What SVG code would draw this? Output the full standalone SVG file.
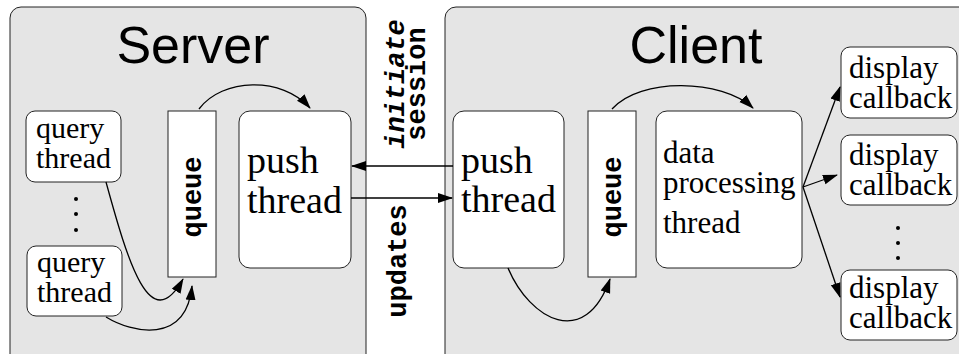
<svg xmlns="http://www.w3.org/2000/svg" width="959" height="354" viewBox="0 0 959 354">
  <style>
    .panel { fill: #e5e5e5; stroke: #222; stroke-width: 1; }
    .box { fill: #fff; stroke: #222; stroke-width: 1; }
    .title { font-family: "Liberation Sans", Arial, sans-serif; font-size: 52px; fill: #000; text-anchor: middle; }
    .lbl { font-family: "Liberation Serif", "Times New Roman", serif; fill: #000; }
    .mono { font-family: "Liberation Mono", "Courier New", monospace; font-weight: bold; font-size: 27px; fill: #000; text-anchor: middle; }
    .wire { fill: none; stroke: #000; stroke-width: 1.3; marker-end: url(#head); }
    .dot { fill: #000; }
  </style>
  <defs>
    <marker id="head" markerUnits="userSpaceOnUse" markerWidth="16" markerHeight="12" refX="14" refY="5" orient="auto" viewBox="0 0 16 10">
      <path d="M0,0 L15,5 L0,10 Z" fill="#000"/>
    </marker>
  </defs>

  <!-- server side -->
  <g id="server">
    <rect class="panel" x="10" y="7" width="356" height="370" rx="11"/>
    <text class="title" x="193" y="63">Server</text>
  </g>
  <g id="query-thread-1">
    <rect class="box" x="26" y="111" width="95" height="71" rx="9"/>
    <text class="lbl" font-size="30" x="36" y="138">query</text>
    <text class="lbl" font-size="30" x="36" y="168">thread</text>
  </g>
  <g id="query-dots">
    <circle class="dot" cx="76" cy="199" r="2"/>
    <circle class="dot" cx="76" cy="214" r="2"/>
    <circle class="dot" cx="76" cy="230" r="2"/>
  </g>
  <g id="query-thread-2">
    <rect class="box" x="27" y="246" width="95" height="70" rx="9"/>
    <text class="lbl" font-size="30" x="37" y="272">query</text>
    <text class="lbl" font-size="30" x="37" y="302">thread</text>
  </g>
  <g id="server-queue">
    <rect class="box" x="168" y="111" width="48" height="166"/>
    <text class="mono" transform="translate(201,197) rotate(-90)">queue</text>
  </g>
  <g id="server-push-thread">
    <rect class="box" x="239" y="111" width="112" height="157" rx="11"/>
    <text class="lbl" font-size="38" x="247" y="173">push</text>
    <text class="lbl" font-size="38" x="247" y="213">thread</text>
  </g>

  <!-- client side -->
  <g id="client">
    <rect class="panel" x="445" y="7" width="530" height="370" rx="11"/>
    <text class="title" x="696" y="63">Client</text>
  </g>
  <g id="client-push-thread">
    <rect class="box" x="453" y="111" width="111" height="157" rx="11"/>
    <text class="lbl" font-size="38" x="461" y="173">push</text>
    <text class="lbl" font-size="38" x="461" y="212">thread</text>
  </g>
  <g id="client-queue">
    <rect class="box" x="588" y="111" width="48" height="166"/>
    <text class="mono" transform="translate(621,197) rotate(-90)">queue</text>
  </g>
  <g id="data-processing-thread">
    <rect class="box" x="656" y="111" width="146" height="157" rx="11"/>
    <text class="lbl" font-size="31" x="663" y="163">data</text>
    <text class="lbl" font-size="31" x="663" y="193">processing</text>
    <text class="lbl" font-size="31" x="663" y="233">thread</text>
  </g>
  <g id="display-callback-1">
    <rect class="box" x="841" y="47" width="116" height="71" rx="9"/>
    <text class="lbl" font-size="31" x="849" y="78">display</text>
    <text class="lbl" font-size="31" x="849" y="108">callback</text>
  </g>
  <g id="display-callback-2">
    <rect class="box" x="841" y="135" width="116" height="70" rx="9"/>
    <text class="lbl" font-size="31" x="849" y="165">display</text>
    <text class="lbl" font-size="31" x="849" y="195">callback</text>
  </g>
  <g id="display-dots">
    <circle class="dot" cx="898" cy="228" r="2"/>
    <circle class="dot" cx="898" cy="243" r="2"/>
    <circle class="dot" cx="898" cy="258" r="2"/>
  </g>
  <g id="display-callback-3">
    <rect class="box" x="841" y="270" width="116" height="70" rx="9"/>
    <text class="lbl" font-size="31" x="849" y="298">display</text>
    <text class="lbl" font-size="31" x="849" y="328">callback</text>
  </g>

  <!-- labels on the link between the two sides -->
  <g id="link-labels">
    <text class="mono" font-style="italic" font-size="28" transform="translate(404,84) rotate(-90)">initiate</text>
    <text class="mono" font-size="28" transform="translate(425,84) rotate(-90)">session</text>
    <text class="mono" font-size="28" transform="translate(406,261) rotate(-90)">updates</text>
  </g>

  <!-- connectors -->
  <g id="connectors">
    <path class="wire" d="M453,166 L352,166"/>
    <path class="wire" d="M351,198 L452,198"/>
    <path class="wire" d="M199,109 C222,78 282,76 310,108"/>
    <path class="wire" d="M106,182 C128,262 150,338 183,279"/>
    <path class="wire" d="M106,317 C132,333 186,345 192,286"/>
    <path class="wire" d="M612,109 C640,77 722,79 753,108"/>
    <path class="wire" d="M508,268 C530,320 585,350 610,279"/>
    <path class="wire" d="M803,187 L840,87"/>
    <path class="wire" d="M803,187 L837,175"/>
    <path class="wire" d="M803,187 L840,297"/>
  </g>
</svg>
